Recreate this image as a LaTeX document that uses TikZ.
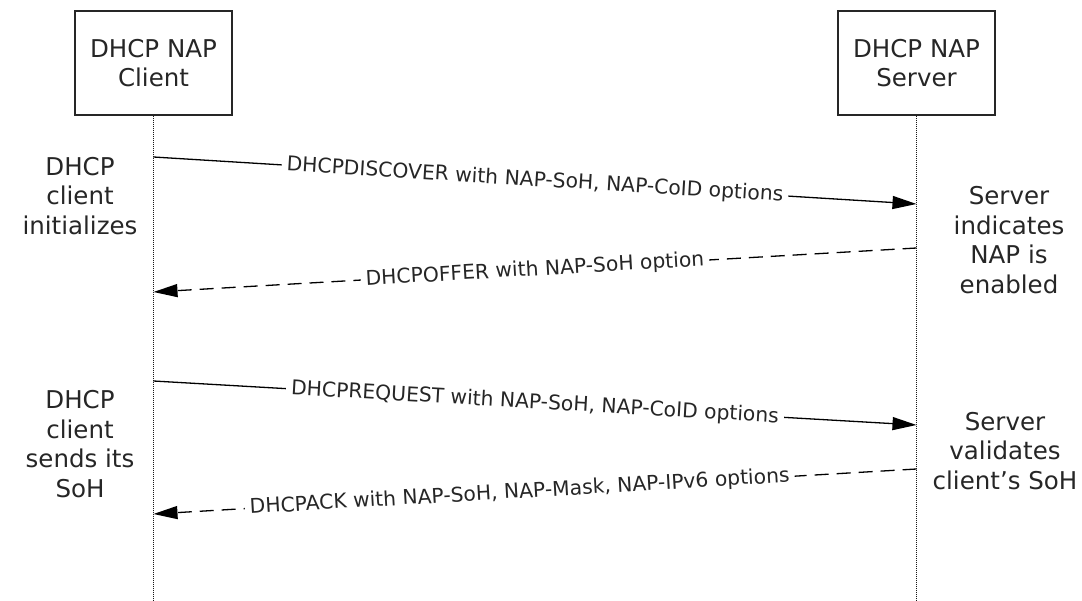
\documentclass[tikz,border=0pt]{standalone}
\usepackage{fontspec}
\setmainfont{DejaVu Sans}
\usetikzlibrary{arrows.meta}
\definecolor{txt}{HTML}{262626}
\begin{document}
\begin{tikzpicture}[x=1pt,y=-1pt,
  actor/.style={draw=black!85,line width=1.2pt,minimum width=157pt,minimum height=104pt,font=\fontsize{24.5}{29}\selectfont,text=txt,align=center},
  life/.style={draw=black!90,line width=1pt,densely dotted},
  msg/.style={draw=black,line width=1.3pt,-{Triangle[length=24pt,width=13pt]}},
  reply/.style={msg,dash pattern=on 14pt off 8pt},
  mlabel/.style={font=\fontsize{20.3}{23}\selectfont,text=txt,fill=white,inner sep=5pt,sloped,pos=0.5},
  side/.style={font=\fontsize{24.5}{29.5}\selectfont,text=txt,align=center}]
\useasboundingbox (0,0) rectangle (1082,601);
\node[actor] (cbox) at (153.5,63) {DHCP NAP\\Client};
\node[actor] (sbox) at (916.5,63) {DHCP NAP\\Server};
\coordinate (cend) at (153.5,601);
\coordinate (send) at (916.5,601);
\draw[life] (cbox.south) -- (cend);
\draw[life] (sbox.south) -- (send);
% message endpoints
\coordinate (c1) at (153.5,157); \coordinate (s1) at (916.5,204);
\coordinate (s2) at (916.5,248); \coordinate (c2) at (153.5,292);
\coordinate (c3) at (153.5,381); \coordinate (s3) at (916.5,425);
\coordinate (s4) at (916.5,469); \coordinate (c4) at (153.5,514);
\draw[msg] (c1) -- node[mlabel] {DHCPDISCOVER with NAP-SoH, NAP-CoID options} (s1);
\draw[reply] (s2) -- node[mlabel] {DHCPOFFER with NAP-SoH option} (c2);
\draw[msg] (c3) -- node[mlabel] {DHCPREQUEST with NAP-SoH, NAP-CoID options} (s3);
\draw[reply] (s4) -- node[mlabel,pos=0.52] {DHCPACK with NAP-SoH, NAP-Mask, NAP-IPv6 options} (c4);
% side notes
\node[side] (n1) at (80,196) {DHCP\\client\\initializes};
\node[side] (n2) at (80,444) {DHCP\\client\\sends its\\SoH};
\node[side] (n3) at (1009,240) {Server\\indicates\\NAP is\\enabled};
\node[side] (n4) at (1005,451) {Server\\validates\\client’s SoH};
\end{tikzpicture}
\end{document}
